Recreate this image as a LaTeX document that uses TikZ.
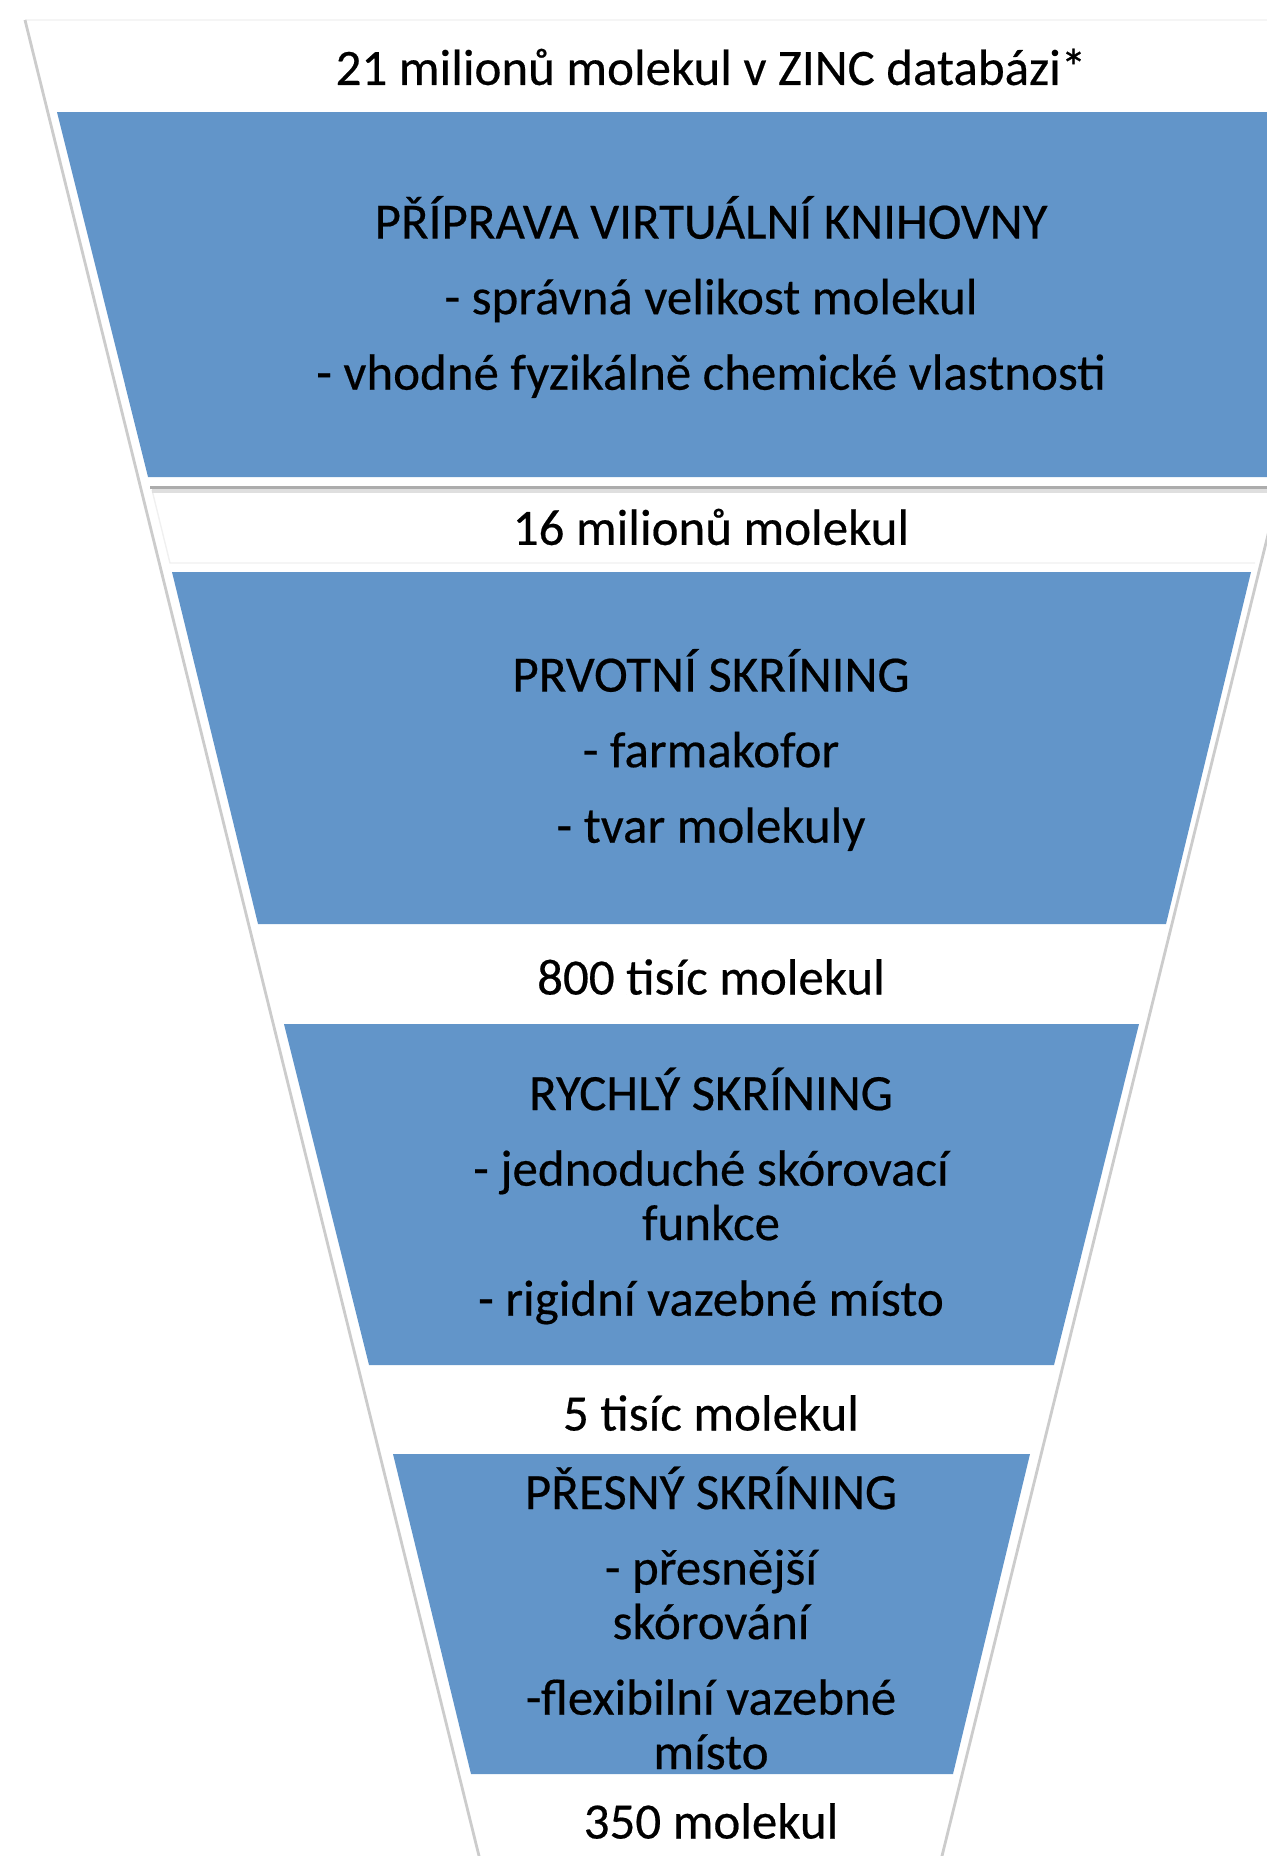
\documentclass[tikz,border=0pt]{standalone}
\usepackage{fontspec}
\setmainfont{Carlito}[FakeBold=0.4]
\usepackage{xcolor}
\usepackage{tikz}
\usetikzlibrary{positioning}
\definecolor{funnelblue}{RGB}{98,149,201}
\tikzset{
	x=0.02cm, y=-0.02cm, % one unit is one pixel of the layout, y runs downwards
	stage/.style={fill=funnelblue, draw=none}, % blue band of the funnel
	rim/.style={draw=gray!40, line width=1.6pt}, % outline of the funnel glass
	stagetext/.style={align=center, inner sep=0pt, font=\fontsize{29}{31}\selectfont}, % text inside a band
	count/.style={inner sep=0pt, font=\fontsize{29}{31}\selectfont}, % number of molecules left
}

\begin{document}
\begin{tikzpicture}
	\useasboundingbox (0,0) rectangle (1267,1856);
	\clip (0,0) rectangle (1267,1856);
	% funnel outline
	\draw[draw=gray!8, line width=1pt] (25,20) -- (1395,20);
	\draw[rim] (25,20) -- (480,1860);
	\draw[rim] (1395,20) -- (941,1860);
	% the white band under the first stage
	\draw[draw=gray!12, line width=0.8pt] (152,490) -- (170,563) -- (1255,563);
	\draw[draw=gray!25, line width=2.5pt] (152,491) -- (1267,491);
	\draw[draw=gray!65, line width=1.2pt] (150,487.5) -- (1267,487.5);
	% blue stages
	\fill[stage] (57,112) -- (1363,112) -- (1272,477) -- (148,477) -- cycle;
	\fill[stage] (172,572) -- (1251,572) -- (1166,924) -- (258,924) -- cycle;
	\fill[stage] (284,1024) -- (1139,1024) -- (1054,1365) -- (369,1365) -- cycle;
	\fill[stage] (393,1454) -- (1030,1454) -- (953,1774) -- (471,1774) -- cycle;
	% texts
	\node[count] (zinc) at (711,67) {21 milionů molekul v ZINC databázi*};
	\node[stagetext] (library) at (711,297) {PŘÍPRAVA VIRTUÁLNÍ KNIHOVNY\\[12pt]
		- správná velikost molekul\\[12pt]
		- vhodné fyzikálně chemické vlastnosti};
	\node[count] (mil16) at (711,527) {16 milionů molekul};
	\node[stagetext] (primary) at (711,750) {PRVOTNÍ SKRÍNING\\[12pt]
		- farmakofor\\[12pt]
		- tvar molekuly};
	\node[count] (tis800) at (711,977) {800 tisíc molekul};
	\node[stagetext] (fast) at (711,1196) {RYCHLÝ SKRÍNING\\[12pt]
		- jednoduché skórovací\\ funkce\\[12pt]
		- rigidní vazebné místo};
	\node[count] (tis5) at (711,1413) {5 tisíc molekul};
	\node[stagetext] (precise) at (711,1618) {PŘESNÝ SKRÍNING\\[12pt]
		- přesnější\\ skórování\\[12pt]
		-flexibilní vazebné\\ místo};
	\node[count] (mol350) at (711,1821) {350 molekul};
\end{tikzpicture}
\end{document}
